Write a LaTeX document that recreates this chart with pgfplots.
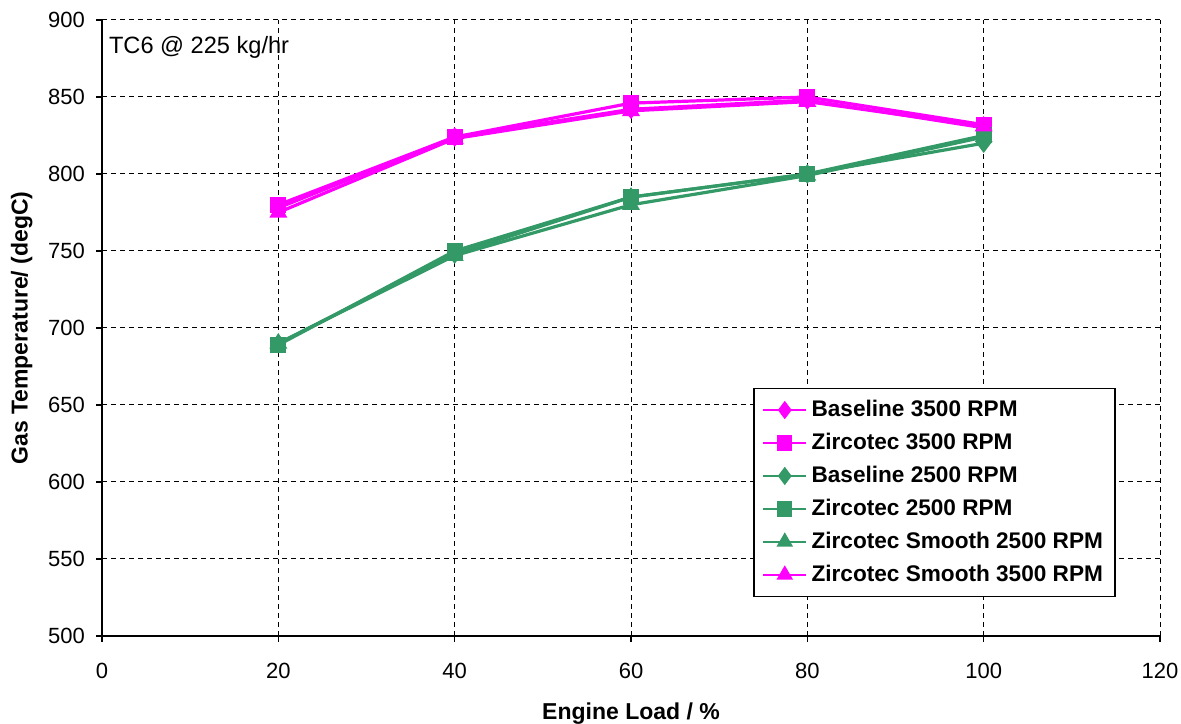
\documentclass[border=0pt]{standalone}
\usepackage{pgfplots}
\pgfplotsset{compat=1.18}
\usepackage{fontspec}
\setmainfont{Liberation Sans}
\definecolor{mag}{RGB}{255,0,255}
\definecolor{grn}{RGB}{51,153,102}
\begin{document}
\begin{tikzpicture}
\begin{axis}[
  name=ax,
  scale only axis,
  width=529pt, height=308pt,
  xmin=0, xmax=120, ymin=500, ymax=900,
  xtick={0,20,...,120}, ytick={500,550,...,900},
  axis lines=left,
  axis line style={-, black, line width=0.6pt},
  tick style={black, line width=0.6pt},
  tick align=outside,
  major tick length=3pt,
  grid=major,
  grid style={black, dashed, line width=0.5pt, dash pattern=on 2.5pt off 2pt},
  /pgf/number format/assume math mode=true,
  /pgf/number format/1000 sep={},
  ticklabel style={font=\fontsize{11}{13}\selectfont},
  yticklabel style={xshift=-2pt},
  xticklabel style={yshift=-7pt},
  xlabel={\textbf{Engine Load / \%}},
  ylabel={\textbf{Gas Temperature/ (degC)}},
  xlabel style={font=\fontsize{11.5}{13}\selectfont, yshift=-5pt},
  ylabel style={font=\fontsize{11.5}{13}\selectfont, yshift=1pt},
  legend style={at={(0.958,0.063)}, anchor=south east, draw=black, line width=0.6pt,
    font=\fontsize{11.3}{13.5}\selectfont\bfseries, row sep=2.8pt, inner sep=4pt,
    legend cell align=left},
  legend image code/.code={\draw[mark repeat=2, mark phase=2, line width=1.2pt] plot coordinates {(0cm,0cm) (0.38cm,0cm) (0.76cm,0cm)};},
  every axis plot/.append style={line width=1.6pt, mark size=3.6pt},
]
\addplot[color=mag, mark=diamond*] coordinates {(20,778) (40,824) (60,842) (80,848) (100,830)};
\addlegendentry{Baseline 3500 RPM}
\addplot[color=mag, mark=square*, mark size=3.2pt] coordinates {(20,780) (40,824) (60,846) (80,850) (100,832)};
\addlegendentry{Zircotec 3500 RPM}
\addplot[color=grn, mark=diamond*] coordinates {(20,690) (40,748) (60,785) (80,800) (100,820)};
\addlegendentry{Baseline 2500 RPM}
\addplot[color=grn, mark=square*, mark size=3.2pt] coordinates {(20,689) (40,750) (60,785) (80,800) (100,825)};
\addlegendentry{Zircotec 2500 RPM}
\addplot[color=grn, mark=triangle*] coordinates {(20,690) (40,747) (60,780) (80,799) (100,824)};
\addlegendentry{Zircotec Smooth 2500 RPM}
\addplot[color=mag, mark=triangle*] coordinates {(20,775) (40,823) (60,841) (80,847) (100,831)};
\addlegendentry{Zircotec Smooth 3500 RPM}
\node[anchor=west, font=\fontsize{11.8}{13}\selectfont] at (rel axis cs:0.0,0.955) {TC6 @ 225 kg/hr};
\end{axis}
\pgfresetboundingbox
\path ([shift={(-51pt,-44pt)}]ax.south west) rectangle ([shift={(10.5pt,10pt)}]ax.north east);
\end{tikzpicture}
\end{document}
